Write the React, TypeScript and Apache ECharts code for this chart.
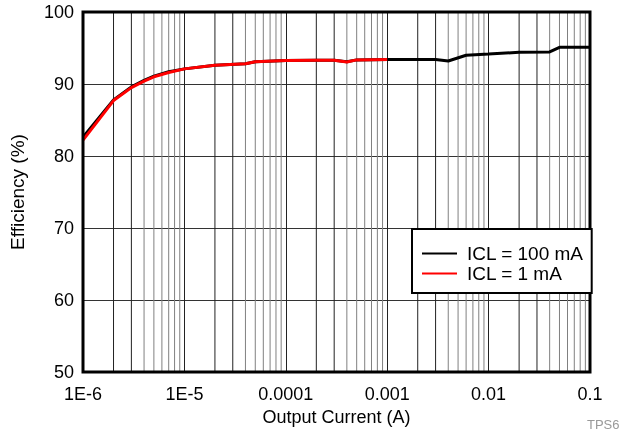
import React, { useEffect, useRef } from "react";
import * as echarts from "echarts";

const blackX = [1e-6, 2e-6, 3e-6, 4e-6, 5e-6, 7e-6, 1e-5, 2e-5, 4e-5, 5e-5, 1e-4, 2e-4, 3e-4, 4e-4, 5e-4, 1e-3, 3e-3, 4e-3, 6e-3, 1e-2, 2e-2, 4e-2, 5e-2, 0.1];
const blackEff = [82.6, 87.8, 89.6, 90.5, 91.1, 91.7, 92.1, 92.6, 92.8, 93.1, 93.25, 93.3, 93.3, 93.1, 93.35, 93.4, 93.4, 93.2, 94.0, 94.15, 94.4, 94.45, 95.1, 95.1];
const redX = [1e-6, 2e-6, 3e-6, 4e-6, 5e-6, 7e-6, 1e-5, 2e-5, 4e-5, 5e-5, 1e-4, 2e-4, 3e-4, 4e-4, 5e-4, 1e-3];
const redEff = [82.2, 87.7, 89.5, 90.4, 91.0, 91.6, 92.1, 92.6, 92.8, 93.1, 93.25, 93.3, 93.3, 93.05, 93.35, 93.4];
const seriesNames = ["ICL = 100 mA", "ICL = 1 mA"];
const decades = [1e-6, 1e-5, 1e-4, 1e-3, 1e-2];
const multipliers = [2, 3, 4, 5, 6, 7, 8, 9];
const yRange = [50, 100];
const FONT = "'Liberation Sans', Arial, Helvetica, sans-serif";

function fmtX(v: number): string {
  const e = Math.round(Math.log10(v));
  const map: Record<number, string> = { [-6]: "1E-6", [-5]: "1E-5", [-4]: "0.0001", [-3]: "0.001", [-2]: "0.01", [-1]: "0.1" };
  return map[e] ?? String(v);
}

export default function App() {
  const ref = useRef<HTMLDivElement>(null);
  useEffect(() => {
    if (!ref.current) return;
    const chart = echarts.init(ref.current, null, { renderer: "svg" });
    const minorSeries: any[] = [];
    decades.forEach((d) => {
      multipliers.forEach((k) => {
        const v = parseFloat((d * k).toPrecision(3));
        minorSeries.push({
          type: "line",
          silent: true,
          symbol: "none",
          showSymbol: false,
          data: [[v, yRange[0]], [v, yRange[1]]],
          lineStyle: { color: k <= 3 ? "#222" : "#808080", width: 1 },
          z: 1,
        });
      });
    });
    chart.setOption({
      animation: false,
      textStyle: { fontFamily: FONT },
      grid: {
        left: 81,
        right: 31,
        top: 12,
        bottom: 64,
        show: true,
        borderColor: "#000",
        borderWidth: 3,
        backgroundColor: "transparent",
        z: 10,
      },
      xAxis: {
        type: "log",
        logBase: 10,
        min: 1e-6,
        max: 0.1,
        name: "Output Current (A)",
        nameLocation: "middle",
        nameGap: 35,
        nameTextStyle: { fontSize: 18, color: "#000", fontFamily: FONT },
        axisLine: { show: false },
        axisTick: { show: false },
        axisLabel: { fontSize: 18, color: "#000", margin: 13, formatter: (v: number) => fmtX(v), fontFamily: FONT },
        splitLine: { show: true, lineStyle: { color: "#222", width: 1 } },
      },
      yAxis: {
        type: "value",
        min: yRange[0],
        max: yRange[1],
        interval: 10,
        name: "Efficiency (%)",
        nameLocation: "middle",
        nameGap: 56,
        nameTextStyle: { fontSize: 19, color: "#000", fontFamily: FONT },
        axisLine: { show: false },
        axisTick: { show: false },
        axisLabel: { fontSize: 18, color: "#000", margin: 9, fontFamily: FONT },
        splitLine: { show: true, lineStyle: { color: "#333", width: 1 } },
      },
      legend: {
        left: 412,
        top: 229,
        orient: "vertical",
        backgroundColor: "#fff",
        borderColor: "#000",
        borderWidth: 2,
        borderRadius: 0,
        padding: [15, 8, 10, 10],
        itemGap: 1,
        itemWidth: 35,
        itemHeight: 2,
        icon: "rect",
        textStyle: { fontSize: 19, color: "#000", fontFamily: FONT, padding: [0, 0, 0, 5] },
        data: seriesNames,
        z: 20,
      },
      series: [
        ...minorSeries,
        {
          name: seriesNames[0],
          type: "line",
          data: blackX.map((x, i) => [x, blackEff[i]]),
          showSymbol: false,
          symbol: "none",
          lineStyle: { color: "#000", width: 3 },
          itemStyle: { color: "#000" },
          z: 5,
        },
        {
          name: seriesNames[1],
          type: "line",
          data: redX.map((x, i) => [x, redEff[i]]),
          showSymbol: false,
          symbol: "none",
          lineStyle: { color: "#ff0000", width: 3 },
          itemStyle: { color: "#ff0000" },
          z: 6,
        },
      ],
      graphic: [
        {
          type: "text",
          left: 587,
          top: 418,
          style: { text: "TPS6", fontSize: 13, fill: "#999", fontFamily: FONT },
        },
      ],
    });
    return () => chart.dispose();
  }, []);
  return <div ref={ref} style={{ position: "fixed", left: 0, top: 0, width: 621, height: 436 }} />;
}
